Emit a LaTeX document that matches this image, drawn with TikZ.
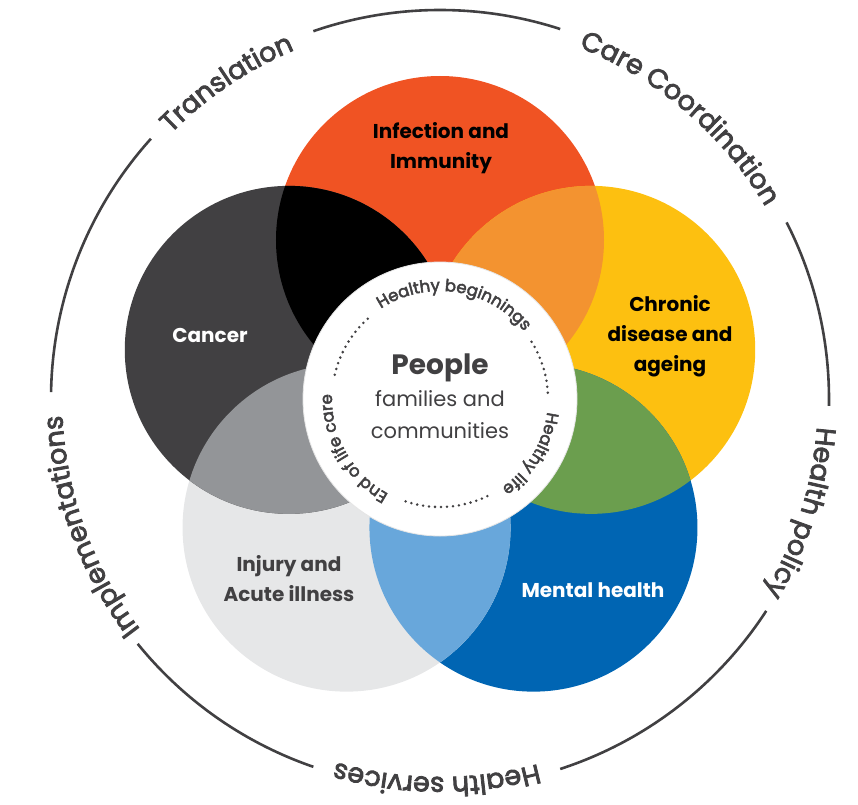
\documentclass[tikz,border=0pt]{standalone}
\usepackage{fontspec}
\setmainfont{Poppins}
\newfontfamily\ringfamily{Poppins}[FakeBold=3]
\usetikzlibrary{decorations.text}

\definecolor{infred}{HTML}{F05323}
\definecolor{chronicyellow}{HTML}{FDC010}
\definecolor{mentalblue}{HTML}{0065B3}
\definecolor{injurygray}{HTML}{E6E7E8}
\definecolor{cancergray}{HTML}{414042}
\definecolor{mixorange}{HTML}{F39330}
\definecolor{mixgreen}{HTML}{6B9E4E}
\definecolor{mixblue}{HTML}{68A7DB}
\definecolor{mixgray}{HTML}{939598}
\definecolor{textgray}{HTML}{414042}

\newcommand{\ringfont}{\ringfamily\fontsize{27}{30}\selectfont\color{textgray}}
\newcommand{\innerfont}{\ringfamily\fontsize{16.5}{18}\selectfont\color{textgray}}

\tikzset{
  petal/.style={font=\bfseries\fontsize{20}{30}\selectfont, align=center},
  outerring/.style={draw=textgray, line width=2.6pt},
  dotring/.style={draw=textgray, line width=2.8pt, line cap=round, dash pattern=on 0pt off 6pt},
  ringtext/.style={decorate, decoration={text along path, text align=center, text={#1}}},
}

\begin{document}
\begin{tikzpicture}[x=1pt,y=1pt]
    \useasboundingbox (-440,-405) rectangle (418,399);
    \coordinate (o) at (0,0);
    \coordinate (p1) at (90:159);
    \coordinate (p2) at (18:159);
    \coordinate (p3) at (-54:159);
    \coordinate (p4) at (-126:159);
    \coordinate (p5) at (162:159);
    \fill[infred] (p1) circle (164);
    \fill[chronicyellow] (p2) circle (164);
    \fill[mentalblue] (p3) circle (164);
    \fill[injurygray] (p4) circle (164);
    \fill[cancergray] (p5) circle (164);
    \begin{scope}
      \clip (p1) circle (164);
      \fill[mixorange] (p2) circle (164);
      \fill[black] (p5) circle (164);
    \end{scope}
    \begin{scope}
      \clip (p3) circle (164);
      \fill[mixgreen] (p2) circle (164);
      \fill[mixblue] (p4) circle (164);
    \end{scope}
    \begin{scope}
      \clip (p4) circle (164);
      \fill[mixgray] (p5) circle (164);
    \end{scope}
    \fill[white] (o) circle (137);
    \draw[gray!20, line width=0.8pt] (o) circle (137);

    \node[petal] (infection) at (1,251) {Infection and\\Immunity};
    \node[petal] (chronic) at (230,63) {Chronic\\disease and\\ageing};
    \node[petal, white] (cancer) at (-230,64) {Cancer};
    \node[petal, textgray] (injury) at (-151,-180) {Injury and\\Acute illness};
    \node[petal, white] (mental) at (153,-191) {Mental health};
    \node[font=\bfseries\fontsize{28}{30}\selectfont, textgray] (people) at (0,31) {People};
    \node[font=\fontsize{21}{32}\selectfont, textgray, align=center] (families) at (0,-16) {families and\\communities};

    \draw[dotring] (167:108) arc[start angle=167, end angle=130, radius=108];
    \draw[dotring] (32:108) arc[start angle=32, end angle=3, radius=108];
    \draw[dotring] (-64:108) arc[start angle=-64, end angle=-111, radius=108];
    \path[ringtext={|\innerfont|Healthy beginnings}] (131:108) arc[start angle=131, end angle=31, radius=108];
    \path[ringtext={|\innerfont|Healthy life}] (9:108) arc[start angle=9, end angle=-71, radius=108];
    \path[ringtext={|\innerfont|End of life care}] (250:108) arc[start angle=250, end angle=169, radius=108];

    \draw[outerring] (179:389) arc[start angle=179, end angle=138, radius=389];
    \draw[outerring] (109:389) arc[start angle=109, end angle=72, radius=389];
    \draw[outerring] (27:389) arc[start angle=27, end angle=-1, radius=389];
    \draw[outerring] (-33:389) arc[start angle=-33, end angle=-72, radius=389];
    \draw[outerring] (-109:389) arc[start angle=-109, end angle=-141, radius=389];
    \path[ringtext={|\ringfont|Translation}] (144:378) arc[start angle=144, end angle=104, radius=378];
    \path[ringtext={|\ringfont|Care Coordination}] (75:378) arc[start angle=75, end angle=24, radius=378];
    \path[ringtext={|\ringfont|Health policy}] (3:378) arc[start angle=3, end angle=-38, radius=378];
    \path[ringtext={|\ringfont|Health services}] (-70:378) arc[start angle=-70, end angle=-111, radius=378];
    \path[ringtext={|\ringfont|Implementations}] (222:378) arc[start angle=222, end angle=178, radius=378];
\end{tikzpicture}
\end{document}
